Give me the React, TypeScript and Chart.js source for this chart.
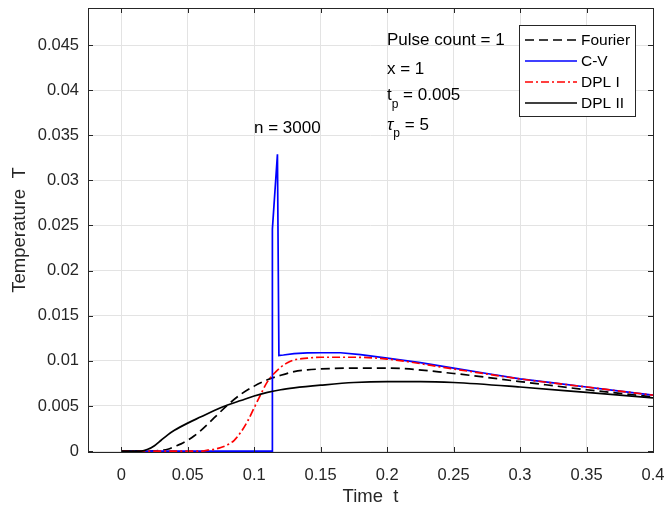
import { useEffect, useRef } from "react";
import { Chart, registerables } from "chart.js";

Chart.register(...registerables);

const xTickValues = [0, 0.05, 0.1, 0.15, 0.2, 0.25, 0.3, 0.35, 0.4];
const xTickLabels = ["0", "0.05", "0.1", "0.15", "0.2", "0.25", "0.3", "0.35", "0.4"];
const yTickValues = [0, 0.005, 0.01, 0.015, 0.02, 0.025, 0.03, 0.035, 0.04, 0.045];
const yTickLabels = ["0", "0.005", "0.01", "0.015", "0.02", "0.025", "0.03", "0.035", "0.04", "0.045"];

const seriesNames = ["Fourier", "C-V", "DPL I", "DPL II"];

const tFourier = [0, 0.02, 0.025, 0.03, 0.035, 0.04, 0.045, 0.05, 0.055, 0.06, 0.07, 0.08, 0.09, 0.1, 0.11, 0.12, 0.13, 0.14, 0.15, 0.17, 0.2, 0.25, 0.3, 0.35, 0.4];
const vFourier = [0, 0, 0.00003, 0.0001, 0.0002, 0.0005, 0.0008, 0.0012, 0.0017, 0.0023, 0.0037, 0.0051, 0.0063, 0.0072, 0.0079, 0.0084, 0.0088, 0.009, 0.0091, 0.0092, 0.0092, 0.0086, 0.0077, 0.0068, 0.006];

const tCV = [0, 0.1135, 0.1137, 0.1175, 0.1186, 0.122, 0.13, 0.14, 0.15, 0.165, 0.18, 0.2, 0.225, 0.25, 0.275, 0.3, 0.325, 0.35, 0.375, 0.4];
const vCV = [0, 0, 0.0246, 0.0329, 0.0106, 0.01065, 0.0108, 0.01088, 0.0109, 0.0109, 0.0107, 0.0103, 0.0098, 0.0092, 0.0086, 0.008, 0.00755, 0.0071, 0.00665, 0.0062];

const tDPL1 = [0, 0.06, 0.065, 0.07, 0.075, 0.08, 0.085, 0.09, 0.095, 0.1, 0.105, 0.11, 0.115, 0.12, 0.125, 0.13, 0.14, 0.15, 0.16, 0.175, 0.2, 0.25, 0.3, 0.35, 0.4];
const vDPL1 = [0, 0, 0.0001, 0.0002, 0.0004, 0.0007, 0.0012, 0.0021, 0.0033, 0.0048, 0.0063, 0.0077, 0.0086, 0.0093, 0.0098, 0.0101, 0.0103, 0.0104, 0.0104, 0.0104, 0.0102, 0.0091, 0.008, 0.0071, 0.0062];

const tDPL2 = [0, 0.015, 0.02, 0.025, 0.03, 0.035, 0.04, 0.05, 0.06, 0.07, 0.08, 0.09, 0.1, 0.11, 0.12, 0.13, 0.15, 0.175, 0.2, 0.225, 0.25, 0.3, 0.35, 0.4];
const vDPL2 = [0, 0, 0.0002, 0.0006, 0.0012, 0.0018, 0.0023, 0.0031, 0.0038, 0.0045, 0.0051, 0.0056, 0.0061, 0.0065, 0.0068, 0.007, 0.0073, 0.0076, 0.0077, 0.0077, 0.0076, 0.0071, 0.0065, 0.0059];

const FONT = "'Liberation Sans', Arial, Helvetica, sans-serif";
const AXIS_COLOR = "#262626";

const seriesStyles = [
  { color: "#000000", dash: [9, 5] },
  { color: "#0000ff", dash: [] as number[] },
  { color: "#ff0000", dash: [8, 3, 2, 3] },
  { color: "#000000", dash: [] as number[] },
];

function toPoints(t: number[], v: number[]) {
  return t.map((x, i) => ({ x, y: v[i] }));
}

const overlayPlugin = {
  id: "overlay",
  afterDraw(chart: any) {
    const { ctx, chartArea } = chart;
    const { left, right, top, bottom } = chartArea;
    const xs = chart.scales.x;
    const ys = chart.scales.y;
    ctx.save();
    ctx.strokeStyle = AXIS_COLOR;
    ctx.lineWidth = 1;
    ctx.strokeRect(Math.round(left) + 0.5, Math.round(top) + 0.5, Math.round(right - left), Math.round(bottom - top));
    ctx.beginPath();
    const tl = 5;
    xTickValues.forEach((v) => {
      const px = Math.round(xs.getPixelForValue(v)) + 0.5;
      ctx.moveTo(px, bottom);
      ctx.lineTo(px, bottom - tl);
      ctx.moveTo(px, top);
      ctx.lineTo(px, top + tl);
    });
    yTickValues.forEach((v) => {
      const py = Math.round(ys.getPixelForValue(v)) + 0.5;
      ctx.moveTo(left, py);
      ctx.lineTo(left + tl, py);
      ctx.moveTo(right, py);
      ctx.lineTo(right - tl, py);
    });
    ctx.stroke();

    ctx.fillStyle = AXIS_COLOR;
    ctx.font = `18.5px ${FONT}`;
    ctx.textAlign = "center";
    ctx.textBaseline = "middle";
    ctx.fillText("Time  t", (left + right) / 2, 497);
    ctx.save();
    ctx.translate(20, (top + bottom) / 2);
    ctx.rotate(-Math.PI / 2);
    ctx.fillText("Temperature  T", 0, 0);
    ctx.restore();

    ctx.fillStyle = "#000000";
    ctx.textAlign = "left";
    ctx.textBaseline = "alphabetic";
    const ax = 387;
    ctx.font = `17px ${FONT}`;
    ctx.fillText("Pulse count = 1", ax, 45);
    ctx.fillText("x = 1", ax, 74);
    ctx.fillText("t", ax, 100);
    let w = ctx.measureText("t").width;
    ctx.font = `12px ${FONT}`;
    ctx.fillText("p", ax + w, 108);
    let w2 = ctx.measureText("p").width;
    ctx.font = `17px ${FONT}`;
    ctx.fillText(" = 0.005", ax + w + w2, 100);
    ctx.font = `italic 17px ${FONT}`;
    ctx.fillText("\u03c4", ax, 130);
    w = ctx.measureText("\u03c4").width;
    ctx.font = `12px ${FONT}`;
    ctx.fillText("p", ax + w, 137);
    w2 = ctx.measureText("p").width;
    ctx.font = `17px ${FONT}`;
    ctx.fillText(" = 5", ax + w + w2, 130);
    ctx.fillText("n = 3000", 254, 133);

    const lx = 519.5, ly = 25.5, lw = 116, lh = 91;
    ctx.fillStyle = "#ffffff";
    ctx.fillRect(lx, ly, lw, lh);
    ctx.strokeStyle = AXIS_COLOR;
    ctx.lineWidth = 1;
    ctx.strokeRect(lx, ly, lw, lh);
    const rows = [40, 61, 82, 103];
    ctx.font = `15.5px ${FONT}`;
    ctx.textBaseline = "middle";
    seriesNames.forEach((name, i) => {
      const st = seriesStyles[i];
      ctx.beginPath();
      ctx.strokeStyle = st.color;
      ctx.lineWidth = 1.7;
      ctx.setLineDash(st.dash);
      ctx.moveTo(525, rows[i]);
      ctx.lineTo(577, rows[i]);
      ctx.stroke();
      ctx.setLineDash([]);
      ctx.fillStyle = "#000000";
      ctx.fillText(name, 581, rows[i] + 1);
    });
    ctx.restore();
  },
};

function zeroPad(scale: any) {
  scale.paddingTop = 0;
  scale.paddingBottom = 0;
  scale.paddingLeft = 0;
  scale.paddingRight = 0;
}

export default function App() {
  const canvasRef = useRef<HTMLCanvasElement | null>(null);

  useEffect(() => {
    const canvas = canvasRef.current;
    if (!canvas) return;
    const seriesData = [
      toPoints(tFourier, vFourier),
      toPoints(tCV, vCV),
      toPoints(tDPL1, vDPL1),
      toPoints(tDPL2, vDPL2),
    ];
    const chart = new Chart(canvas, {
      type: "scatter",
      data: {
        datasets: seriesNames.map((name, i) => ({
          label: name,
          data: seriesData[i],
          showLine: true,
          borderColor: seriesStyles[i].color,
          backgroundColor: seriesStyles[i].color,
          borderDash: seriesStyles[i].dash,
          borderWidth: 1.7,
          pointRadius: 0,
          fill: false,
          tension: i === 1 ? 0 : 0.4,
          cubicInterpolationMode: i === 1 ? "default" : "monotone",
          order: 4 - i,
        })) as any,
      },
      options: {
        animation: false,
        responsive: false,
        maintainAspectRatio: false,
        layout: { padding: { top: 8, right: 13, left: 0, bottom: 0 } },
        plugins: {
          legend: { display: false },
          tooltip: { enabled: false },
        },
        scales: {
          x: {
            type: "linear",
            min: -0.025,
            max: 0.4,
            afterFit: (scale: any) => {
              scale.height = 56;
              zeroPad(scale);
            },
            afterBuildTicks: (scale: any) => {
              scale.ticks = xTickValues.map((v) => ({ value: v }));
            },
            ticks: {
              color: AXIS_COLOR,
              font: { family: FONT, size: 16.5 },
              padding: 14,
              maxRotation: 0,
              autoSkip: false,
              callback: (value: any) => {
                const i = xTickValues.findIndex((v) => Math.abs(v - Number(value)) < 1e-9);
                return i >= 0 ? xTickLabels[i] : "";
              },
            },
            grid: { color: "#e3e3e3", drawTicks: false, lineWidth: 1 },
            border: { display: false },
          },
          y: {
            type: "linear",
            min: -0.0001,
            max: 0.0491,
            afterFit: (scale: any) => {
              scale.width = 88;
              zeroPad(scale);
            },
            afterBuildTicks: (scale: any) => {
              scale.ticks = yTickValues.map((v) => ({ value: v }));
            },
            ticks: {
              color: AXIS_COLOR,
              font: { family: FONT, size: 16.5 },
              padding: 9,
              autoSkip: false,
              callback: (value: any) => {
                const i = yTickValues.findIndex((v) => Math.abs(v - Number(value)) < 1e-9);
                return i >= 0 ? yTickLabels[i] : "";
              },
            },
            grid: { color: "#e3e3e3", drawTicks: false, lineWidth: 1 },
            border: { display: false },
          },
        },
      },
      plugins: [overlayPlugin],
    });
    return () => chart.destroy();
  }, []);

  return (
    <div style={{ position: "fixed", left: 0, top: 0, width: 666, height: 508, background: "#ffffff" }}>
      <canvas ref={canvasRef} width={666} height={508} style={{ width: 666, height: 508, display: "block" }} />
    </div>
  );
}
